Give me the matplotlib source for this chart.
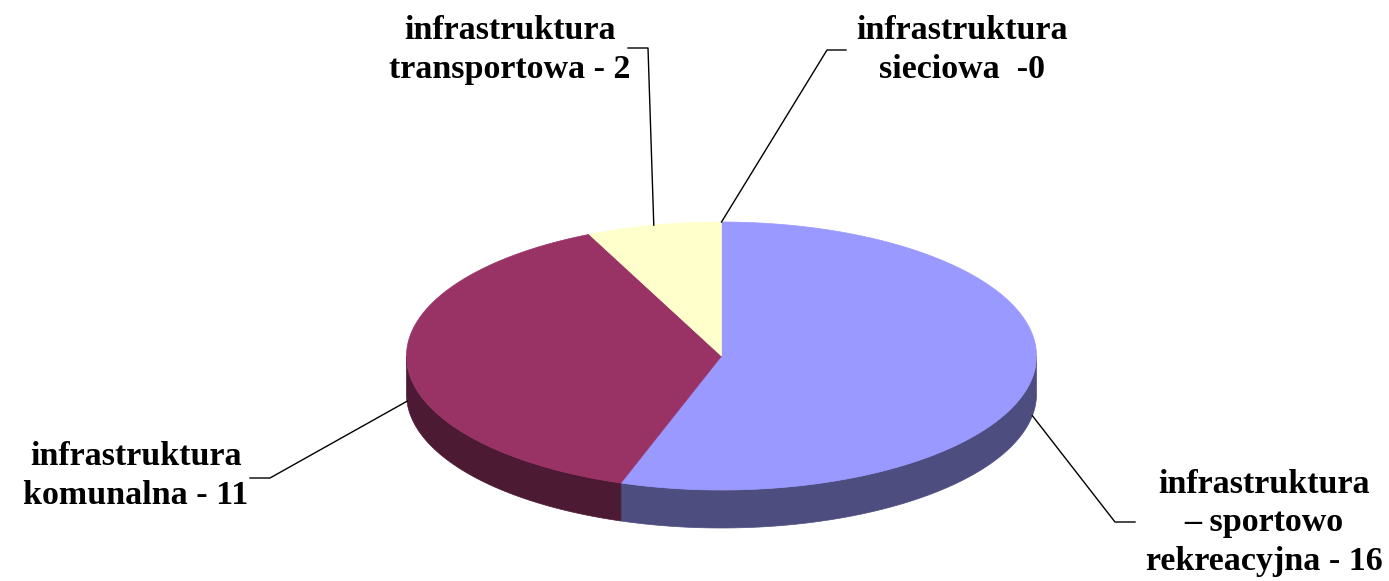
import numpy as np
import matplotlib
matplotlib.use("Agg")
import matplotlib.pyplot as plt
from matplotlib.patches import Polygon

# ---- data ----
categories = ["infrastruktura\n– sportowo\nrekreacyjna", "infrastruktura\nkomunalna",
              "infrastruktura\ntransportowa", "infrastruktura\nsieciowa"]
values = [16, 11, 2, 0]
label_fmt = ["{c} - {v}", "{c} - {v}", "{c} - {v}", "{c}  -{v}"]

# ---- style ----
top_colors = ["#9999FF", "#993366", "#FFFFCC", "#CCFFFF"]
wall_colors = ["#4D4D80", "#4D1A33", "#80806A", "#6A8080"]

W, H = 1389, 581
fig = plt.figure(figsize=(W / 100, H / 100), dpi=100)
ax = fig.add_axes([0, 0, 1, 1])
ax.set_xlim(0, W)
ax.set_ylim(H, 0)
ax.axis("off")

cx, cy, rx, ry, depth = 721.5, 356.0, 315.0, 134.0, 38.0


def pt(theta_deg, dy=0.0):
    t = np.radians(theta_deg)
    return cx + rx * np.sin(t), cy - ry * np.cos(t) + dy


def arc(a0, a1, dy=0.0, n=200):
    th = np.linspace(a0, a1, n)
    t = np.radians(th)
    return np.column_stack([cx + rx * np.sin(t), cy - ry * np.cos(t) + dy])


total = float(sum(values))
starts, ends = [], []
acc = 0.0
for v in values:
    starts.append(acc / total * 360.0)
    acc += v
    ends.append(acc / total * 360.0)

# walls (front part: 90..270 deg clockwise from top)
for s, e, wc, v in zip(starts, ends, wall_colors, values):
    if v == 0:
        continue
    a0, a1 = max(s, 90.0), min(e, 270.0)
    if a1 <= a0:
        continue
    top = arc(a0, a1)
    bot = arc(a0, a1, depth)[::-1]
    ax.add_patch(Polygon(np.vstack([top, bot]), closed=True, facecolor=wc,
                         edgecolor=wc, linewidth=0.5, zorder=2))

# tops
for s, e, tc, v in zip(starts, ends, top_colors, values):
    if v == 0:
        continue
    poly = np.vstack([[cx, cy], arc(s, e), [cx, cy]])
    ax.add_patch(Polygon(poly, closed=True, facecolor=tc, edgecolor=tc,
                         linewidth=0.5, zorder=3))

# labels and leader lines
text_pos = [(1264, 523), (136, 476), (510, 50), (962, 50)]
elbow = [((1115, 522), (1135, 522)), ((270, 478), (250, 478)),
         ((648, 48), (628, 48)), ((827, 50), (846, 50))]
for i, (c, v) in enumerate(zip(categories, values)):
    mid = (starts[i] + ends[i]) / 2.0
    ax_, ay_ = pt(mid)
    if 90.0 < mid < 270.0:
        ay_ += depth
    (ex, ey), (hx, hy) = elbow[i]
    ax.plot([ax_, ex, hx], [ay_, ey, hy], color="black", lw=1.0, zorder=4)
    txt = label_fmt[i].format(c=c, v=v)
    ax.text(text_pos[i][0], text_pos[i][1], txt, ha="center", va="center",
            fontsize=24.5, fontweight="bold", family="Liberation Serif",
            linespacing=1.3, zorder=5)

fig.savefig("out.png", dpi=100)
